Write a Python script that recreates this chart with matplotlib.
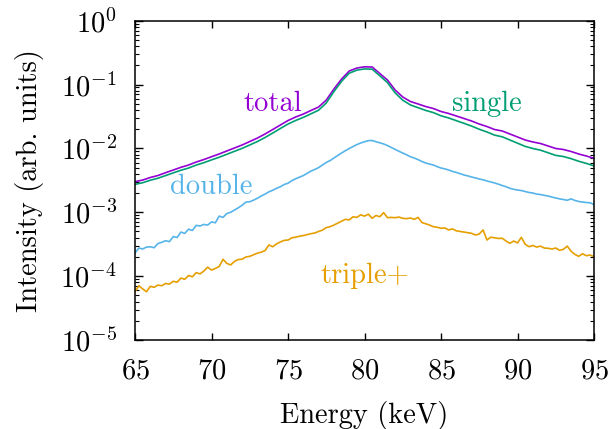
import numpy as np
import matplotlib
matplotlib.use("Agg")
import matplotlib.pyplot as plt
from matplotlib.ticker import LogLocator, NullFormatter, MultipleLocator

plt.rcParams["font.family"] = "serif"
plt.rcParams["font.serif"] = ["cmr10"]
plt.rcParams["mathtext.fontset"] = "cm"
plt.rcParams["axes.formatter.use_mathtext"] = True

# log10 of intensity
# total and single on a 0.5 keV grid, double and triple+ on a 0.25 keV grid
log_total = [
    -2.521, -2.495, -2.455, -2.424, -2.380, -2.338, -2.296, -2.260, -2.213, -2.174,
    -2.130, -2.087, -2.040, -1.993, -1.946, -1.892, -1.837, -1.774, -1.704, -1.633,
    -1.563, -1.508, -1.461, -1.406, -1.351, -1.242, -1.070, -0.913, -0.788, -0.741,
    -0.722, -0.725, -0.827, -0.929, -1.085, -1.195, -1.265, -1.304, -1.344, -1.375,
    -1.422, -1.453, -1.492, -1.531, -1.571, -1.618, -1.657, -1.704, -1.727, -1.774,
    -1.821, -1.868, -1.899, -1.923, -1.962, -2.001, -2.017, -2.048, -2.087, -2.119,
    -2.155,
]
log_single = [
    -2.563, -2.537, -2.498, -2.467, -2.425, -2.383, -2.342, -2.307, -2.261, -2.223,
    -2.180, -2.138, -2.092, -2.045, -1.999, -1.946, -1.892, -1.829, -1.759, -1.688,
    -1.618, -1.562, -1.514, -1.458, -1.401, -1.288, -1.110, -0.949, -0.822, -0.774,
    -0.755, -0.759, -0.863, -0.969, -1.130, -1.245, -1.319, -1.362, -1.405, -1.439,
    -1.489, -1.523, -1.565, -1.607, -1.650, -1.700, -1.742, -1.792, -1.818, -1.868,
    -1.918, -1.968, -2.001, -2.027, -2.068, -2.109, -2.127, -2.160, -2.201, -2.235,
    -2.273,
]
log_double = [
    -3.640, -3.560, -3.575, -3.545, -3.540, -3.555, -3.490, -3.470, -3.445, -3.460,
    -3.380, -3.395, -3.310, -3.330, -3.265, -3.285, -3.205, -3.215, -3.190, -3.200,
    -3.150, -3.165, -3.060, -3.080, -3.020, -3.000, -2.965, -2.930, -2.890, -2.840,
    -2.835, -2.810, -2.780, -2.745, -2.715, -2.680, -2.655, -2.625, -2.600, -2.565,
    -2.545, -2.505, -2.475, -2.450, -2.425, -2.390, -2.355, -2.330, -2.300, -2.260,
    -2.220, -2.190, -2.150, -2.110, -2.072, -2.035, -2.002, -1.970, -1.940, -1.915,
    -1.895, -1.878, -1.876, -1.895, -1.912, -1.930, -1.955, -1.985, -2.015, -2.045,
    -2.072, -2.100, -2.130, -2.150, -2.175, -2.205, -2.228, -2.245, -2.260, -2.285,
    -2.307, -2.320, -2.338, -2.360, -2.377, -2.395, -2.416, -2.430, -2.448, -2.462,
    -2.479, -2.492, -2.510, -2.525, -2.541, -2.560, -2.581, -2.600, -2.624, -2.640,
    -2.651, -2.660, -2.675, -2.690, -2.698, -2.715, -2.722, -2.735, -2.745, -2.762,
    -2.776, -2.790, -2.800, -2.812, -2.790, -2.815, -2.831, -2.840, -2.847, -2.852,
    -2.880,
]
log_triple = [
    -4.244, -4.150, -4.200, -4.244, -4.160, -4.175, -4.140, -4.150, -4.115, -4.125,
    -4.080, -4.095, -4.030, -4.050, -3.990, -4.010, -3.945, -3.965, -3.920, -3.860,
    -3.905, -3.880, -3.850, -3.736, -3.800, -3.825, -3.770, -3.740, -3.735, -3.700,
    -3.690, -3.665, -3.640, -3.625, -3.600, -3.512, -3.540, -3.495, -3.465, -3.440,
    -3.435, -3.400, -3.390, -3.375, -3.365, -3.350, -3.335, -3.325, -3.300, -3.280,
    -3.240, -3.226, -3.200, -3.170, -3.140, -3.110, -3.120, -3.070, -3.080, -3.040,
    -3.060, -3.030, -3.094, -3.050, -3.070, -3.005, -3.085, -3.080, -3.085, -3.075,
    -3.094, -3.100, -3.090, -3.110, -3.080, -3.160, -3.180, -3.200, -3.226, -3.235,
    -3.250, -3.245, -3.277, -3.260, -3.290, -3.300, -3.310, -3.320, -3.330, -3.356,
    -3.340, -3.277, -3.434, -3.390, -3.400, -3.410, -3.407, -3.450, -3.486, -3.450,
    -3.480, -3.392, -3.500, -3.539, -3.520, -3.545, -3.530, -3.560, -3.564, -3.575,
    -3.560, -3.596, -3.580, -3.530, -3.610, -3.660, -3.690, -3.650, -3.680, -3.670,
    -3.696,
]

series = [
    ("total", log_total, "#9400d3"),
    ("single", log_single, "#009e73"),
    ("double", log_double, "#56b4e9"),
    ("triple+", log_triple, "#e69f00"),
]

# label anchor points (energy, log10 intensity of baseline)
label_pos = {
    "total": (74.0, -1.414),
    "single": (88.0, -1.414),
    "double": (70.0, -2.714),
    "triple+": (80.0, -4.112),
}

fs = 20.5

fig = plt.figure(figsize=(6.09, 4.29), dpi=100)
ax = fig.add_axes([0.2217, 0.2075, 0.7537, 0.7442])

for name, logs, color in series:
    energy = np.linspace(65, 95, len(logs))
    ax.plot(energy, 10.0 ** np.array(logs), color=color, lw=1.2)
    ex, ly = label_pos[name]
    ax.text(ex, 10.0 ** ly, name, color=color, fontsize=fs,
            ha="center", va="baseline")

ax.set_yscale("log")
ax.set_xlim(65, 95)
ax.set_ylim(1e-5, 1)
ax.xaxis.set_major_locator(MultipleLocator(5))
ax.yaxis.set_major_locator(LogLocator(base=10, numticks=10))
ax.yaxis.set_minor_locator(LogLocator(base=10, subs=np.arange(2, 10), numticks=10))
ax.yaxis.set_minor_formatter(NullFormatter())

ax.tick_params(which="both", direction="in", top=True, right=True, labelsize=fs)
ax.tick_params(axis="x", which="major", length=5, width=1.0, pad=13)
ax.tick_params(axis="y", which="major", length=5.5, width=1.0, pad=13)
ax.tick_params(axis="y", which="minor", length=3, width=0.8)
for sp in ax.spines.values():
    sp.set_linewidth(1.1)

ax.set_xlabel("Energy (keV)", fontsize=fs, labelpad=12)
ax.set_ylabel("Intensity (arb. units)", fontsize=fs, labelpad=12)

fig.savefig("out.png", dpi=100)
